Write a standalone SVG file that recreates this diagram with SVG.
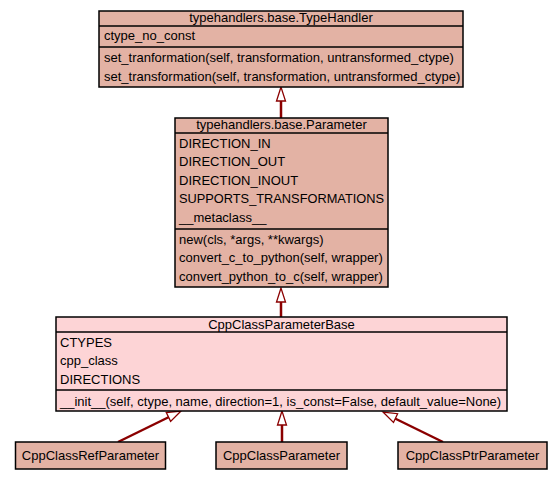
<svg xmlns="http://www.w3.org/2000/svg" width="560" height="480" viewBox="0 0 560 480">
<style>
.box{stroke:#000;stroke-width:1.5}
.sal{fill:#e3b2a4}
.pink{fill:#fdd4d6}
.sep{stroke:#000;stroke-width:1.5}
text{font-family:"Liberation Sans",Arial,sans-serif;font-size:13px;fill:#000}
.c{text-anchor:middle}
.edge{stroke:#8b0000;stroke-width:2.5;fill:none}
.head{fill:#fff;stroke:#8b0000;stroke-width:1.3}
</style>
<rect width="560" height="480" fill="#fff"/>
<g id="connectors">
<line class="edge" x1="281" y1="118" x2="281" y2="100"/>
<polygon class="head" points="281,87 276.5,101 285.5,101"/>
<line class="edge" x1="281" y1="317" x2="281" y2="300"/>
<polygon class="head" points="281,288 276.5,302 285.5,302"/>
<line class="edge" x1="282" y1="442" x2="282" y2="425"/>
<polygon class="head" points="282,411 277.5,425 286.5,425"/>
<line class="edge" x1="118" y1="442" x2="169" y2="417"/>
<polygon class="head" points="181,411 166.3,412.6 170.6,421.4"/>
<line class="edge" x1="443" y1="442" x2="394" y2="418"/>
<polygon class="head" points="383,412 393.5,422.5 397.6,413.7"/>
</g>
<g id="TypeHandler">
<rect class="box sal" x="99" y="11" width="364" height="76"/>
<line class="sep" x1="99" y1="26" x2="463" y2="26"/>
<line class="sep" x1="99" y1="47" x2="463" y2="47"/>
<text class="c" x="281" y="22">typehandlers.base.TypeHandler</text>
<text x="104" y="40">ctype_no_const</text>
<text x="104" y="62">set_tranformation(self, transformation, untransformed_ctype)</text>
<text x="104" y="81">set_transformation(self, transformation, untransformed_ctype)</text>
</g>
<g id="Parameter">
<rect class="box sal" x="175" y="118" width="213" height="169"/>
<line class="sep" x1="175" y1="133" x2="388" y2="133"/>
<line class="sep" x1="175" y1="229" x2="388" y2="229"/>
<text class="c" x="281.5" y="128.5">typehandlers.base.Parameter</text>
<text x="179" y="148">DIRECTION_IN</text>
<text x="179" y="166">DIRECTION_OUT</text>
<text x="179" y="184.5">DIRECTION_INOUT</text>
<text x="179" y="203" textLength="205" lengthAdjust="spacingAndGlyphs">SUPPORTS_TRANSFORMATIONS</text>
<text x="179" y="221.5">__metaclass__</text>
<text x="179" y="243.5">new(cls, *args, **kwargs)</text>
<text x="179" y="262">convert_c_to_python(self, wrapper)</text>
<text x="179" y="280.5">convert_python_to_c(self, wrapper)</text>
</g>
<g id="CppClassParameterBase">
<rect class="box pink" x="56" y="317" width="451" height="94"/>
<line class="sep" x1="56" y1="332" x2="507" y2="332"/>
<line class="sep" x1="56" y1="390" x2="507" y2="390"/>
<text class="c" x="281.5" y="328.5">CppClassParameterBase</text>
<text x="60" y="347">CTYPES</text>
<text x="60" y="365">cpp_class</text>
<text x="60" y="383.5">DIRECTIONS</text>
<text x="60" y="406">__init__(self, ctype, name, direction=1, is_const=False, default_value=None)</text>
</g>
<g id="CppClassRefParameter">
<rect class="box sal" x="15.5" y="442" width="150" height="27"/>
<text class="c" x="90.5" y="459.5">CppClassRefParameter</text>
</g>
<g id="CppClassParameter">
<rect class="box sal" x="216" y="442" width="131" height="27"/>
<text class="c" x="281.5" y="459.5">CppClassParameter</text>
</g>
<g id="CppClassPtrParameter">
<rect class="box sal" x="398" y="442" width="149" height="27"/>
<text class="c" x="472.5" y="459.5">CppClassPtrParameter</text>
</g>
</svg>
